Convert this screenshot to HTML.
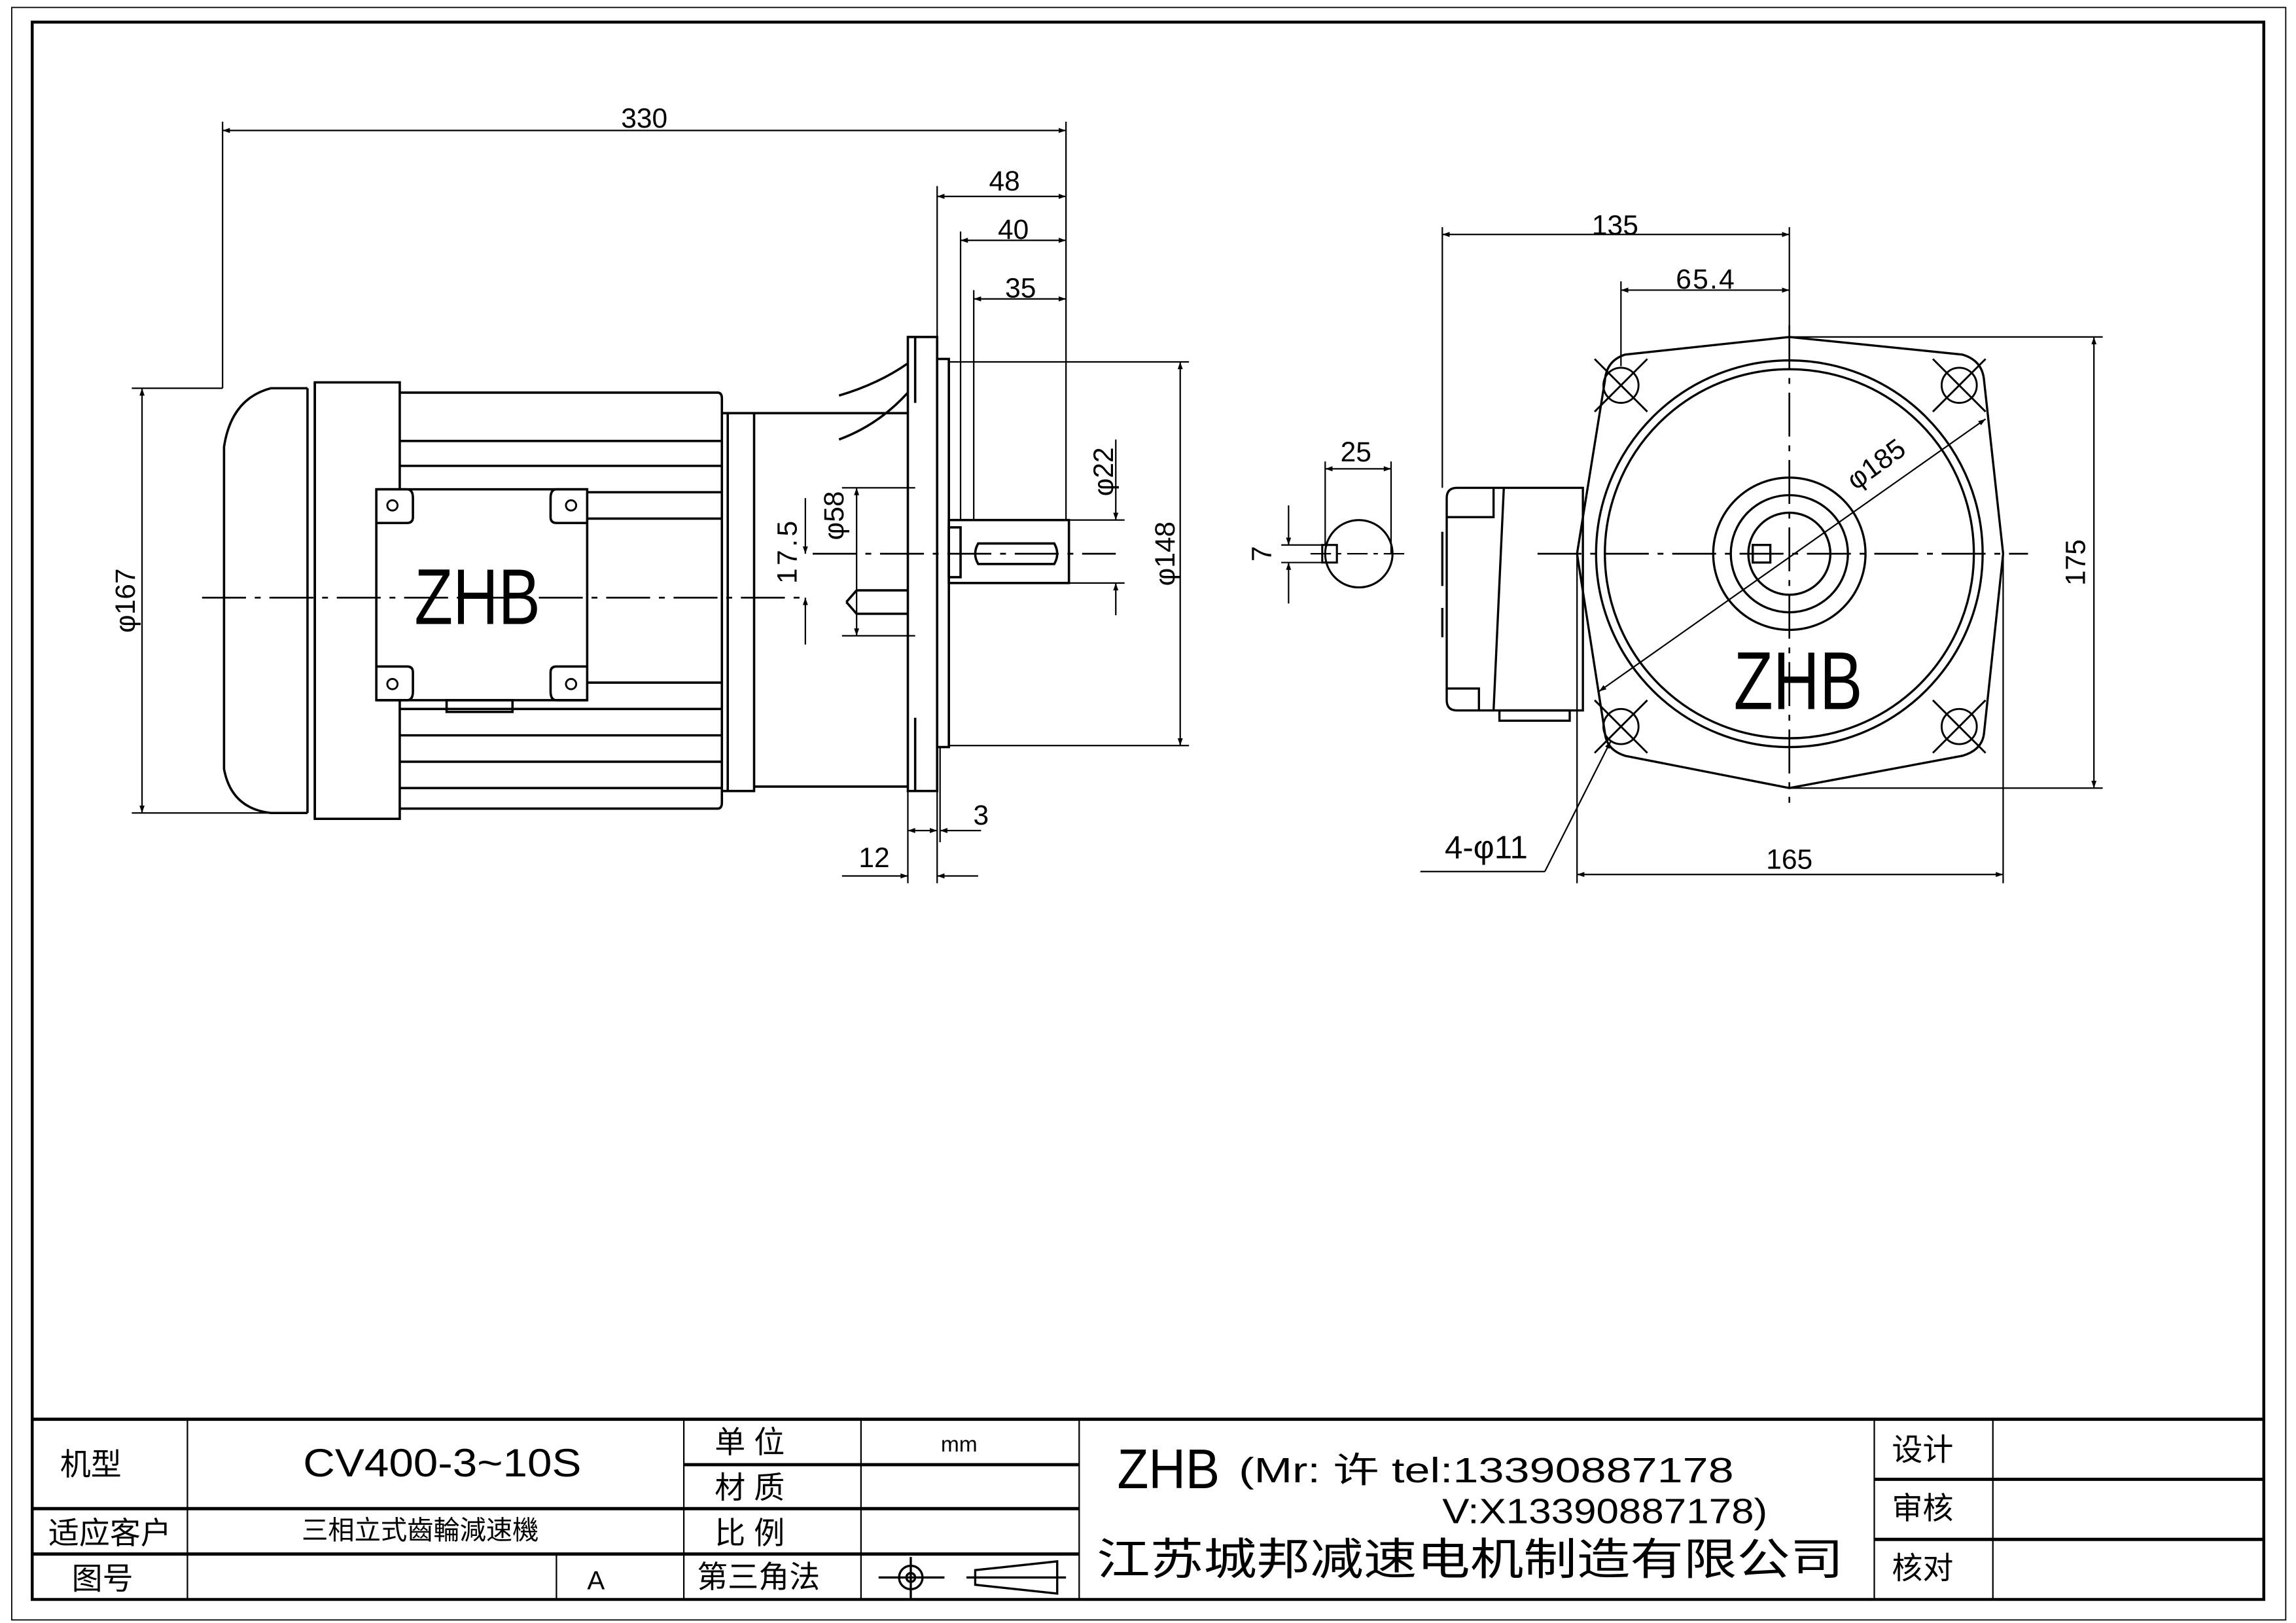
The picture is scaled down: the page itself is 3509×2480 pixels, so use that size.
<!DOCTYPE html>
<html><head><meta charset="utf-8"><style>
html,body{margin:0;padding:0;background:#fff;}
svg{display:block;}
text{font-family:"Liberation Sans","Noto Sans CJK SC",sans-serif;fill:#000;}
</style></head><body>
<svg width="3509" height="2480" viewBox="0 0 1568 1108" xmlns="http://www.w3.org/2000/svg">
<defs>
<marker id="a" viewBox="0 0 10 10" refX="10" refY="5" markerWidth="8" markerHeight="5" markerUnits="userSpaceOnUse" orient="auto-start-reverse"><path d="M0,1.5 L10,5 L0,8.5 z" fill="#000"/></marker>
</defs>
<rect width="1568" height="1108" fill="#fff"/>
<g fill="none" stroke="#000">
<rect x="8" y="5" width="1553" height="1101" stroke-width="0.8"/>
<rect x="22" y="15" width="1524" height="1077" stroke-width="2"/>
<g stroke-width="2.2">
<line x1="22" y1="969" x2="1546" y2="969"/>
<line x1="22" y1="1030" x2="737" y2="1030"/>
<line x1="22" y1="1061" x2="737" y2="1061"/>
<line x1="467" y1="1000" x2="737" y2="1000"/>
<line x1="1280" y1="1010" x2="1546" y2="1010"/>
<line x1="1280" y1="1051" x2="1546" y2="1051"/>
</g>
<g stroke-width="1">
<line x1="128" y1="969" x2="128" y2="1092"/>
<line x1="467" y1="969" x2="467" y2="1092"/>
<line x1="588" y1="969" x2="588" y2="1092"/>
<line x1="737" y1="969" x2="737" y2="1092"/>
<line x1="1280" y1="969" x2="1280" y2="1092"/>
<line x1="1361" y1="969" x2="1361" y2="1092"/>
<line x1="380" y1="1061" x2="380" y2="1092"/>
</g>
<g stroke-width="1.5">
<circle cx="622" cy="1077" r="8"/><circle cx="622" cy="1077" r="3"/>
<line x1="600" y1="1077" x2="645" y2="1077"/><line x1="622" y1="1063" x2="622" y2="1092"/>
<path d="M666,1072 L722,1066 L722,1088 L666,1082 z"/><line x1="660" y1="1077" x2="728" y2="1077"/>
</g>

<!-- LEFT VIEW -->
<g stroke-width="1.6">
<path d="M210,265 L185,265 Q158,272 153,305 L153,525 Q158,552 185,555 L210,555"/>
<line x1="210" y1="265" x2="210" y2="555"/><line x1="215" y1="261" x2="215" y2="559"/>
<rect x="215" y="261" width="58" height="298"/>
<path d="M273,268 L490,268 Q493,268 493,272 L493,548 Q493,552 490,552 L273,552"/>
<line x1="273" y1="301" x2="493" y2="301"/><line x1="273" y1="318" x2="493" y2="318"/>
<line x1="273" y1="336" x2="493" y2="336"/><line x1="273" y1="354" x2="493" y2="354"/>
<line x1="273" y1="466" x2="493" y2="466"/><line x1="273" y1="484" x2="493" y2="484"/>
<line x1="273" y1="502" x2="493" y2="502"/><line x1="273" y1="520" x2="493" y2="520"/>
<line x1="273" y1="538" x2="493" y2="538"/>
<rect x="257" y="334" width="144" height="144" fill="#fff"/>
<path d="M257,334 L278,334 Q282,334 282,340 L282,353 Q282,357 278,357 L257,357"/>
<path d="M401,334 L380,334 Q376,334 376,340 L376,353 Q376,357 380,357 L401,357"/>
<path d="M257,478 L278,478 Q282,478 282,472 L282,459 Q282,455 278,455 L257,455"/>
<path d="M401,478 L380,478 Q376,478 376,472 L376,459 Q376,455 380,455 L401,455"/>
<rect x="305" y="478" width="45" height="8"/>
<path d="M493,282 L515,282 L515,540 L493,540"/>
<line x1="515" y1="282" x2="620" y2="282"/><line x1="515" y1="537" x2="620" y2="537"/>
<line x1="497" y1="282" x2="497" y2="540"/>
<rect x="620" y="230" width="20" height="310"/>
<path d="M625,230 L625,275 M625,490 L625,540"/>
<rect x="640" y="245" width="8" height="265"/>
<rect x="648" y="355" width="82" height="43"/>
<path d="M668,371 L720,371 Q724,378 720,385 L668,385 Q664,378 668,371 z"/>
<rect x="648" y="360" width="8" height="34"/>
<path d="M573,270 Q600,262 620,248 M573,300 Q600,290 620,268"/>
<path d="M578,411 L585,403 L620,403 M578,411 L585,419 L620,419"/>
</g>
<g stroke-width="1.3">
<circle cx="268" cy="345" r="3.5"/><circle cx="390" cy="345" r="3.5"/><circle cx="268" cy="467" r="3.5"/><circle cx="390" cy="467" r="3.5"/>
</g>
<g stroke-width="1.2" stroke-dasharray="30,6,4,6">
<line x1="138" y1="408" x2="550" y2="408"/><line x1="555" y1="378" x2="762" y2="378"/>
</g>
<g stroke-width="1">
<line x1="152" y1="83" x2="152" y2="265"/><line x1="728" y1="83" x2="728" y2="355"/>
<line x1="152" y1="89" x2="728" y2="89" marker-start="url(#a)" marker-end="url(#a)"/>
<line x1="640" y1="127" x2="640" y2="230"/>
<line x1="640" y1="134" x2="728" y2="134" marker-start="url(#a)" marker-end="url(#a)"/>
<line x1="656" y1="158" x2="656" y2="355"/>
<line x1="656" y1="164" x2="728" y2="164" marker-start="url(#a)" marker-end="url(#a)"/>
<line x1="665" y1="198" x2="665" y2="355"/>
<line x1="665" y1="204" x2="728" y2="204" marker-start="url(#a)" marker-end="url(#a)"/>
<line x1="90" y1="265" x2="152" y2="265"/><line x1="90" y1="555" x2="185" y2="555"/>
<line x1="97" y1="265" x2="97" y2="555" marker-start="url(#a)" marker-end="url(#a)"/>
<line x1="648" y1="247" x2="812" y2="247"/><line x1="648" y1="509" x2="812" y2="509"/>
<line x1="806" y1="247" x2="806" y2="509" marker-start="url(#a)" marker-end="url(#a)"/>
<line x1="730" y1="355" x2="768" y2="355"/><line x1="730" y1="398" x2="768" y2="398"/>
<line x1="762" y1="300" x2="762" y2="355" marker-end="url(#a)"/>
<line x1="762" y1="420" x2="762" y2="398" marker-end="url(#a)"/>
<line x1="575" y1="333" x2="625" y2="333"/><line x1="575" y1="434" x2="625" y2="434"/>
<line x1="585" y1="333" x2="585" y2="434" marker-start="url(#a)" marker-end="url(#a)"/>
<line x1="550" y1="340" x2="550" y2="378" marker-end="url(#a)"/>
<line x1="550" y1="440" x2="550" y2="408" marker-end="url(#a)"/>
<line x1="620" y1="540" x2="620" y2="603"/><line x1="640" y1="540" x2="640" y2="603"/><line x1="642" y1="510" x2="642" y2="575"/>
<line x1="620" y1="567" x2="640" y2="567" marker-start="url(#a)" marker-end="url(#a)"/>
<line x1="670" y1="567" x2="642" y2="567" marker-end="url(#a)"/>
<line x1="575" y1="598" x2="620" y2="598" marker-end="url(#a)"/>
<line x1="668" y1="598" x2="640" y2="598" marker-end="url(#a)"/>
</g>

<!-- SHAFT END VIEW -->
<g stroke-width="1.4">
<circle cx="928" cy="378" r="23"/>
<rect x="903" y="372" width="10" height="12"/>
</g>
<g stroke-width="1">
<line x1="905" y1="315" x2="905" y2="372"/><line x1="950" y1="315" x2="950" y2="378"/>
<line x1="905" y1="320" x2="950" y2="320" marker-start="url(#a)" marker-end="url(#a)"/>
<line x1="875" y1="372" x2="905" y2="372"/><line x1="875" y1="384" x2="905" y2="384"/>
<line x1="880" y1="345" x2="880" y2="372" marker-end="url(#a)"/>
<line x1="880" y1="412" x2="880" y2="384" marker-end="url(#a)"/>
<line x1="895" y1="378" x2="962" y2="378" stroke-dasharray="14,4,3,4"/>
</g>

<!-- RIGHT VIEW -->
<g stroke-width="1.5">
<path d="M1222,230 L1340,242 Q1354,246 1355,260 L1368,378 L1355,500 Q1354,512 1340,516 L1222,538 L1110,516 Q1097,512 1096,500 L1077,378 L1096,260 Q1097,246 1110,242 z"/>
<circle cx="1222" cy="378" r="132"/><circle cx="1222" cy="378" r="126"/>
<circle cx="1222" cy="378" r="52"/><circle cx="1222" cy="378" r="40"/><circle cx="1222" cy="378" r="28"/>
<rect x="1197" y="372" width="12" height="12"/>
<path d="M988,340 Q988,333 995,333 L1081,333 L1081,485 L995,485 Q988,485 988,478 z"/>
<path d="M988,353 L1020,353 L1020,333 M988,470 L1010,470 L1010,485 M1027,333 L1020,485"/>
<rect x="1024" y="485" width="48" height="7"/>
<line x1="985" y1="363" x2="985" y2="400"/><line x1="985" y1="415" x2="985" y2="435"/>
</g>
<g stroke-width="1.3">
<circle cx="1107" cy="263" r="12"/><circle cx="1338" cy="263" r="12"/><circle cx="1107" cy="496" r="12"/><circle cx="1338" cy="496" r="12"/>
<path d="M1089,245 L1125,281 M1125,245 L1089,281 M1320,245 L1356,281 M1356,245 L1320,281 M1089,478 L1125,514 M1125,478 L1089,514 M1320,478 L1356,514 M1356,478 L1320,514"/>
</g>
<g stroke-width="1.2" stroke-dasharray="30,6,4,6">
<line x1="1050" y1="378" x2="1385" y2="378"/><line x1="1222" y1="222" x2="1222" y2="548"/>
</g>
<g stroke-width="1">
<line x1="985" y1="155" x2="985" y2="333"/><line x1="1222" y1="155" x2="1222" y2="225"/>
<line x1="985" y1="160" x2="1222" y2="160" marker-start="url(#a)" marker-end="url(#a)"/>
<line x1="1107" y1="192" x2="1107" y2="250"/>
<line x1="1107" y1="198" x2="1222" y2="198" marker-start="url(#a)" marker-end="url(#a)"/>
<line x1="1222" y1="230" x2="1436" y2="230"/><line x1="1222" y1="538" x2="1436" y2="538"/>
<line x1="1430" y1="230" x2="1430" y2="538" marker-start="url(#a)" marker-end="url(#a)"/>
<line x1="1077" y1="378" x2="1077" y2="603"/><line x1="1368" y1="378" x2="1368" y2="603"/>
<line x1="1077" y1="597" x2="1368" y2="597" marker-start="url(#a)" marker-end="url(#a)"/>
<line x1="1092" y1="472" x2="1356" y2="286" marker-start="url(#a)" marker-end="url(#a)"/>
<line x1="970" y1="595" x2="1055" y2="595"/>
<line x1="1055" y1="595" x2="1100" y2="506" marker-end="url(#a)"/>
</g>
</g>

<g font-size="19">
<text x="440" y="87" text-anchor="middle">330</text>
<text x="686" y="130" text-anchor="middle">48</text>
<text x="692" y="163" text-anchor="middle">40</text>
<text x="697" y="203" text-anchor="middle">35</text>
<text transform="translate(92 410) rotate(-90)" text-anchor="middle">φ167</text>
<text transform="translate(802 378) rotate(-90)" text-anchor="middle">φ148</text>
<text transform="translate(760 322) rotate(-90)" text-anchor="middle">φ22</text>
<text transform="translate(576 352) rotate(-90)" text-anchor="middle">φ58</text>
<text transform="translate(544 376) rotate(-90)" text-anchor="middle" letter-spacing="2">17.5</text>
<text x="670" y="563" text-anchor="middle">3</text>
<text x="597" y="592" text-anchor="middle">12</text>
<text x="926" y="315" text-anchor="middle">25</text>
<text transform="translate(868 378) rotate(-90)" text-anchor="middle">7</text>
<text x="1103" y="160" text-anchor="middle">135</text>
<text x="1165" y="197" text-anchor="middle" letter-spacing="1">65.4</text>
<text transform="translate(1424 384) rotate(-90)" text-anchor="middle">175</text>
<text x="1222" y="593" text-anchor="middle">165</text>
<text transform="translate(1285 322) rotate(-36)" text-anchor="middle">φ185</text>
<text x="1015" y="586" text-anchor="middle" font-size="22">4-φ11</text>
</g>
<text x="283" y="426" font-size="54" textLength="86" lengthAdjust="spacingAndGlyphs">ZHB</text>
<text x="1184" y="484" font-size="56" textLength="88" lengthAdjust="spacingAndGlyphs">ZHB</text>

<g font-size="21">
<text x="62" y="1007" text-anchor="middle">机型</text>
<text x="302" y="1008" text-anchor="middle" font-size="27" textLength="190" lengthAdjust="spacingAndGlyphs">CV400-3~10S</text>
<text x="512" y="992" text-anchor="middle">单 位</text>
<text x="655" y="991" text-anchor="middle" font-size="15">mm</text>
<text x="512" y="1023" text-anchor="middle">材 质</text>
<text x="75" y="1054" text-anchor="middle">适应客户</text>
<text x="287" y="1051" text-anchor="middle" font-size="18">三相立式齒輪減速機</text>
<text x="512" y="1054" text-anchor="middle">比 例</text>
<text x="70" y="1085" text-anchor="middle">图号</text>
<text x="407" y="1085" text-anchor="middle" font-size="18">A</text>
<text x="518" y="1084" text-anchor="middle">第三角法</text>
<text x="763" y="1016" font-size="38" textLength="70" lengthAdjust="spacingAndGlyphs">ZHB</text>
<text x="846" y="1012" font-size="24" textLength="338" lengthAdjust="spacingAndGlyphs">(Mr: 许 tel:13390887178</text>
<text x="985" y="1040" font-size="24" textLength="222" lengthAdjust="spacingAndGlyphs">V:X13390887178)</text>
<text x="749" y="1075" font-size="30" textLength="510" lengthAdjust="spacingAndGlyphs">江苏城邦减速电机制造有限公司</text>
<text x="1313" y="997" text-anchor="middle">设计</text>
<text x="1313" y="1037" text-anchor="middle">审核</text>
<text x="1313" y="1078" text-anchor="middle">核对</text>
</g>
</svg>
</body></html>
